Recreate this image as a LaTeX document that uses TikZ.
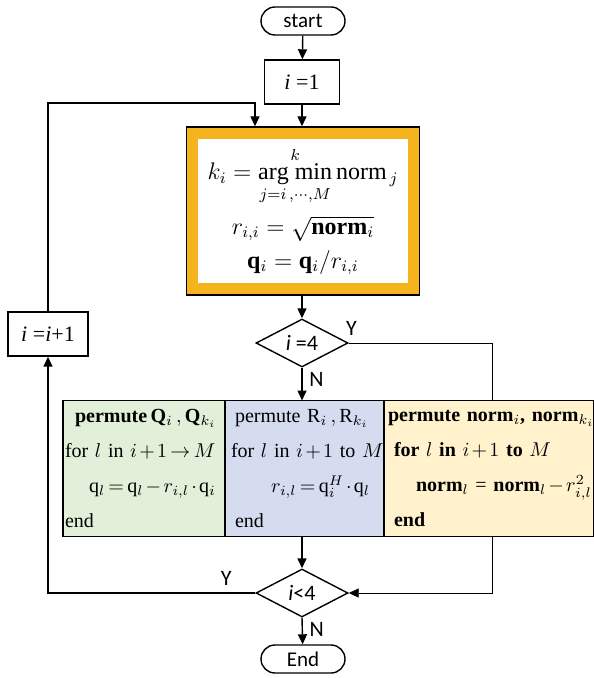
\documentclass[tikz,border=0pt]{standalone}
\usepackage{fontspec}
\setmainfont{Liberation Serif}
\newfontfamily\flowsans{Carlito}
\usepackage{xcolor}
\usetikzlibrary{arrows.meta, positioning, shapes, backgrounds}

\definecolor{bandorange}{RGB}{245,180,30}
\definecolor{permgreen}{RGB}{226,239,217}
\definecolor{permblue}{RGB}{214,220,240}
\definecolor{permyellow}{RGB}{255,242,204}

\DeclareRobustCommand\tightmath{\medmuskip=2mu\relax\thickmuskip=3mu\relax}

\tikzset{
    terminal/.style={draw, rounded corners=7pt, minimum width=42pt, minimum height=14pt,
        inner sep=0pt, font=\flowsans\fontsize{10.5}{12}\selectfont},
    procbox/.style={draw, minimum height=22pt, inner sep=0pt, font=\fontsize{11}{13}\selectfont},
    decision/.style={draw, diamond, aspect=2, minimum width=46pt, minimum height=24pt,
        inner sep=0pt, font=\flowsans\fontsize{11}{12}\selectfont},
    permbox/.style={draw, minimum height=68pt, outer sep=0pt, align=left, inner ysep=0pt,
        font=\fontsize{10}{17.5}\selectfont\tightmath},
    branch/.style={font=\flowsans\fontsize{11}{12}\selectfont},
    flow/.style={-{Triangle[length=5pt,width=4.5pt]}},
}

\begin{document}
\begin{tikzpicture}[x=0.5pt, y=-0.5pt, line width=0.7pt]
    \useasboundingbox (0,0) rectangle (593,678);

    % main column
    \node[terminal] (start) at (303,21) {start};
    \node[procbox, minimum width=37.5pt] (init) at (302,82) {\textit{i} =1};
    \node[draw, fill=bandorange, minimum width=116.5pt, minimum height=84pt] (argbox) at (303,211) {};
    \node[fill=white, minimum width=105pt, minimum height=72pt, inner sep=0pt, align=center,
        font=\fontsize{12}{17}\selectfont] (argtext) at (argbox.center) {
            $k_i = \mathop{\mathrm{arg}\ \mathrm{min}}\limits^{k}_{j=i\,,\cdots,M}\mathrm{norm}_{\,j}$ \\[5pt]
            $r_{i,i} = \sqrt{\mathbf{norm}_i}$ \\
            $\mathbf{q}_i = \mathbf{q}_i / r_{i,i}$
        };
    \node[decision] (eqfour) at (302,343) {\itshape i\upshape\ =4};

    % the three permutation steps
    \node[permbox, fill=permblue, text width=73.5pt, inner xsep=3pt] (permr) at (304.5,468.5) {
            \mbox{\hspace*{2pt}permute $\mathrm{R}_i\,,\mathrm{R}_{k_i}$} \\
            \mbox{for $l$ in $i+1$ to $M$} \\
            \mbox{\hspace*{20pt}$r_{i,l} = \mathrm{q}_i^{H}\cdot\mathrm{q}_l$} \\
            \hspace*{2pt}end
        };
    \node[permbox, fill=permgreen, text width=79pt, inner xsep=1pt, left=0pt of permr] (permq) {
            \mbox{\hspace*{5pt}\textbf{permute}\,$\mathbf{Q}_i\,,\mathbf{Q}_{k_i}$} \\
            \mbox{for $l$ in $i+1\rightarrow M$} \\
            \mbox{\hspace*{12pt}$\mathrm{q}_l = \mathrm{q}_l - r_{i,l}\cdot\mathrm{q}_i$} \\
            end
        };
    \node[permbox, fill=permyellow, text width=101pt, inner xsep=2pt, right=0pt of permr] (permn) {
            \mbox{\textbf{permute norm}$_i$\textbf{,\ norm}$_{k_i}$} \\
            \mbox{\hspace*{3pt}\textbf{for} $l$ \textbf{in} $i+1$ \textbf{to} $M$} \\
            \mbox{\hspace*{14pt}\textbf{norm}$_l$ = \textbf{norm}$_l - r_{i,l}^{2}$} \\
            \hspace*{3pt}\textbf{end}
        };

    \node[decision] (lessfour) at (302,593) {\itshape i\upshape<4};
    \node[terminal] (stop) at (303,659) {End};
    \node[procbox, minimum width=40pt] (incr) at (48,334) {\textit{i} =\textit{i}+1};

    \coordinate (rside) at (492,343);
    \coordinate (loopin) at (255,103);

    % connectors
    \draw[flow] (start) -- (init);
    \draw[flow] (init) -- (init |- argbox.north);
    \draw[flow] (argbox.south -| eqfour.north) -- (eqfour);
    \draw[flow] (eqfour.south) -- node[branch, right, pos=0.35] {N} (eqfour.south |- permr.north);
    \draw[flow] (permr.south -| lessfour.north) -- (lessfour);
    \draw[flow] (lessfour.south) -- node[branch, right, pos=0.45] {N} (stop);
    \draw[flow] (lessfour.west) -| node[branch, above, pos=0.07] {Y} (incr.south);
    \draw[flow] (incr.north) |- (loopin) -- (loopin |- argbox.north);
    \begin{pgfonlayer}{background}
        \draw[flow] (eqfour.east) -- node[branch, above, pos=0.02] {Y} (rside) |- (lessfour.east);
    \end{pgfonlayer}
\end{tikzpicture}
\end{document}
